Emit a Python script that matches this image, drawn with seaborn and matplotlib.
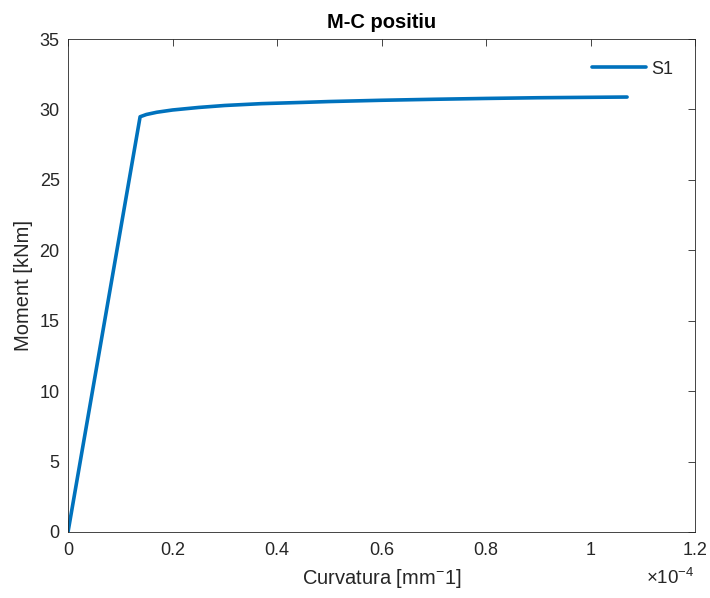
import numpy as np
import pandas as pd
import matplotlib
matplotlib.use("Agg")
import matplotlib.pyplot as plt
import seaborn as sns
from matplotlib.ticker import FuncFormatter, MultipleLocator

# data (curvature in mm^-1, moment in kNm)
curvature = [0.0, 0.138e-4, 0.15e-4, 0.17e-4, 0.2e-4, 0.25e-4, 0.3e-4, 0.37e-4, 0.45e-4,
             0.5e-4, 0.6e-4, 0.7e-4, 0.8e-4, 0.9e-4, 1.0e-4, 1.07e-4]
moment = [0.0, 29.48, 29.64, 29.8, 29.96, 30.14, 30.28, 30.41, 30.5,
          30.56, 30.65, 30.72, 30.78, 30.83, 30.86, 30.88]
series_name = "S1"

df = pd.DataFrame({"Curvatura": curvature, "Moment": moment, "serie": series_name})

sns.set_theme(style="white")
plt.rcParams['font.family'] = ['Liberation Sans', 'DejaVu Sans']

fig = plt.figure(figsize=(7.10, 5.98), dpi=100)
ax = fig.add_axes([68/710, 1 - 532/598, (695-68)/710, (532-39)/598])

sns.lineplot(data=df, x="Curvatura", y="Moment", hue="serie", palette=["#0072BD"],
             linewidth=2.6, ax=ax, sort=False, legend=True)

ax.set_xlim(0, 1.2e-4)
ax.set_ylim(0, 35)
ax.xaxis.set_major_locator(MultipleLocator(0.2e-4))
ax.yaxis.set_major_locator(MultipleLocator(5))

def fmt(v, pos):
    s = f"{v/1e-4:.1f}"
    if s.endswith(".0"):
        s = s[:-2]
    return s
ax.xaxis.set_major_formatter(FuncFormatter(fmt))

for sp in ax.spines.values():
    sp.set_visible(True)
    sp.set_color("#262626")
    sp.set_linewidth(0.6)
ax.tick_params(direction="in", length=5, width=0.6, color="#262626",
               top=True, right=True, labelsize=13, labelcolor="#262626")
ax.tick_params(axis="x", pad=7)
ax.tick_params(axis="y", pad=6)

ax.set_xlabel("Curvatura [mm$^{\\mathregular{-}}$1]", fontsize=14.5, color="#262626", labelpad=6)
ax.set_ylabel("Moment [kNm]", fontsize=14.5, color="#262626", labelpad=5)
ax.set_title("M-C positiu", fontsize=14.5, fontweight="bold", color="black", pad=8)

ax.text(1.0, -0.092, "×10$^{\\mathregular{-4}}$", transform=ax.transAxes,
        ha="right", va="center", fontsize=13.5, color="#262626")

leg = ax.legend(loc="upper right", frameon=False, fontsize=13, handlelength=3.0,
                handletextpad=0.3, borderaxespad=0.8, title=None)
for line in leg.get_lines():
    line.set_linewidth(2.6)

fig.savefig("out.png", dpi=100)
